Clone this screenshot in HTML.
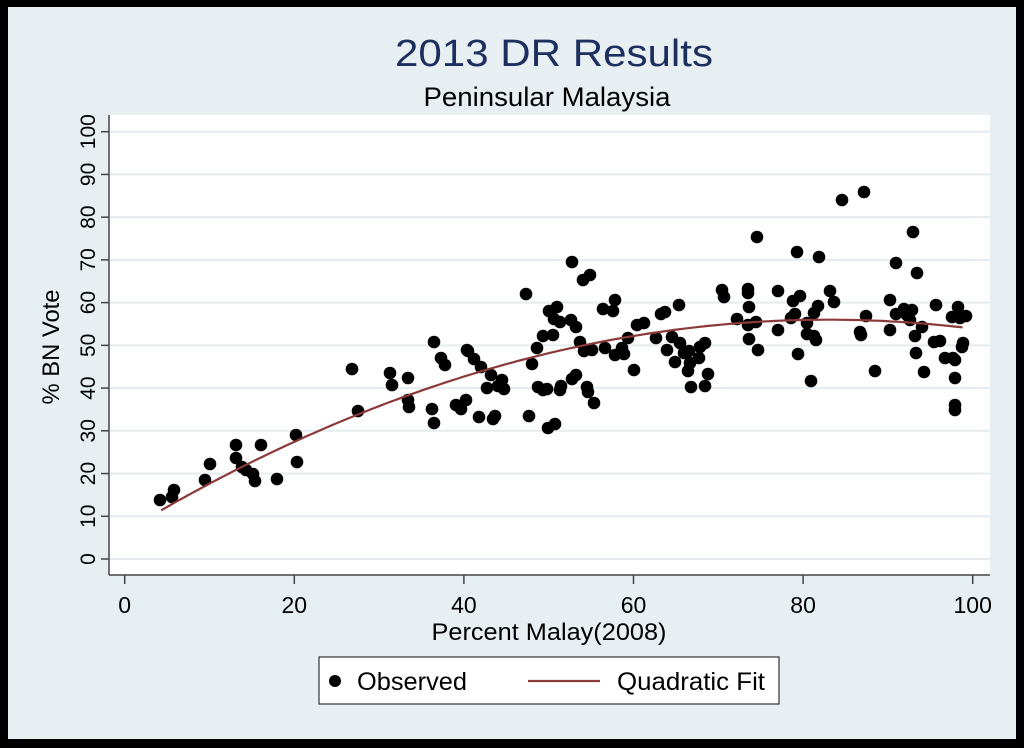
<!DOCTYPE html>
<html><head><meta charset="utf-8"><style>
html,body{margin:0;padding:0;background:#000;}
svg{display:block;font-family:"Liberation Sans",Arial,sans-serif;}
</style></head><body>
<svg id="s" width="1024" height="748" xmlns="http://www.w3.org/2000/svg">
<rect x="0" y="0" width="1024" height="748" fill="#000"/>
<rect x="8" y="7" width="1008" height="732" fill="#e8eff2"/>
<rect x="109" y="115" width="881" height="460" fill="#fff"/>
<g id="grid" stroke="#e4ecef" stroke-width="2"></g>
<line x1="109" y1="115" x2="109" y2="575" stroke="#444" stroke-width="1.5"/>
<line x1="109" y1="575" x2="990" y2="575" stroke="#444" stroke-width="1.5"/>
<g id="ticks" stroke="#444" stroke-width="1.5"></g>
<g id="labels" font-size="21" fill="#000"></g>
<g id="pts" fill="#000"></g>
<path id="fit" fill="none" stroke="#8b3a3a" stroke-width="2.2"/>
<text x="554" y="66" font-size="38" fill="#1c2f5e" text-anchor="middle" textLength="318" lengthAdjust="spacingAndGlyphs">2013 DR Results</text>
<text x="547" y="106" font-size="27" fill="#000" text-anchor="middle" textLength="247" lengthAdjust="spacingAndGlyphs">Peninsular Malaysia</text>
<text x="549" y="640" font-size="24" text-anchor="middle" textLength="235" lengthAdjust="spacingAndGlyphs">Percent Malay(2008)</text>
<text transform="translate(59,347) rotate(-90)" font-size="24" text-anchor="middle" textLength="115" lengthAdjust="spacingAndGlyphs">% BN Vote</text>
<rect x="319" y="657" width="460" height="47" fill="#fff" stroke="#333" stroke-width="1.2"/>
<circle cx="335" cy="681" r="6" fill="#000"/>
<text x="357" y="690" font-size="25" textLength="110" lengthAdjust="spacingAndGlyphs">Observed</text>
<line x1="528" y1="681" x2="600" y2="681" stroke="#8b3a3a" stroke-width="2.2"/>
<text x="617" y="690" font-size="25" textLength="148" lengthAdjust="spacingAndGlyphs">Quadratic Fit</text>
</svg>
<script>
var NS="http://www.w3.org/2000/svg";
function el(p,t,a,txt){var e=document.createElementNS(NS,t);for(var k in a)e.setAttribute(k,a[k]);if(txt!==undefined)e.textContent=txt;document.getElementById(p).appendChild(e);}
function px(x){return 124.7+8.48*x;}function py(y){return 559-4.273*y;}
for(var v=0;v<=100;v+=10){var y=py(v);
 el("grid","line",{x1:110,y1:y,x2:990,y2:y});
 el("ticks","line",{x1:101,y1:y,x2:109,y2:y});
 el("labels","text",{transform:"translate(95,"+y+") rotate(-90)","text-anchor":"middle"},String(v));}
for(var v=0;v<=100;v+=20){var x=px(v);
 el("ticks","line",{x1:x,y1:575,x2:x,y2:584});
 el("labels","text",{x:x,y:613,"text-anchor":"middle","font-size":"23"},String(v));}
var P=[[160,500],[172,497],[174,490],[205,480],[210,464],[236,445],[236,458],[242,467],[246,470],[253,474],[255,481],[261,445],[277,479],[296,435],[297,462],[352,369],[358,411],[390,373],[392,385],[408,378],[408,400],[409,407],[432,409],[434,423],[434,342],[441,358],[445,365],[456,405],[461,409],[467,350],[474,359],[468,351],[481,367],[487,388],[498,386],[504,389],[502,380],[479,417],[466,400],[493,419],[495,416],[529,416],[548,428],[543,390],[555,424],[491,375],
[572,262],[583,280],[526,294],[590,275],[603,309],[615,300],[613,311],[571,320],[554,319],[557,307],[549,311],[560,322],[553,335],[537,348],[543,336],[576,327],[580,342],[584,351],[592,350],[605,348],[622,348],[615,355],[624,354],[628,338],[637,325],[644,323],[656,338],[661,314],[665,312],[679,305],[667,350],[672,337],[675,362],[680,343],[684,353],[689,351],[700,347],[705,343],[699,358],[532,364],[561,386],[560,390],[572,379],[576,375],[588,392],[587,387],[547,389],[538,387],[594,403],[634,370],[688,371],[690,363],[708,374],[705,386],[691,387],
[722,290],[724,297],[737,319],[748,293],[748,289],[749,307],[748,325],[749,339],[756,322],[758,350],[778,291],[778,330],[793,301],[791,318],[800,296],[807,323],[798,354],[811,381],[795,314],[814,313],[807,334],[814,336],[816,340],[818,306],[757,237],[797,252],[819,257],[830,291],[834,302],[842,200],[864,192],[866,316],[860,332],[861,335],[875,371],[890,330],[890,300],[896,263],[896,314],[904,309],[907,315],[912,310],[913,232],[917,273],[910,320],[915,336],[916,353],[924,372],[922,327],[936,305],[934,342],[940,341],[945,358],[953,358],[952,317],[958,307],[960,318],[962,347],[955,360],[955,378],[955,405],[955,410],[966,316],[963,343]];
P.forEach(function(p){el("pts","circle",{cx:p[0],cy:p[1],r:6.3});});
var d="";for(var x=4.3;x<=99.2;x+=0.5){var y=56-0.0072*(x-83)*(x-83);d+=(d?"L":"M")+px(x).toFixed(1)+","+py(y).toFixed(1);}
document.getElementById("fit").setAttribute("d",d);
</script>
</body></html>
